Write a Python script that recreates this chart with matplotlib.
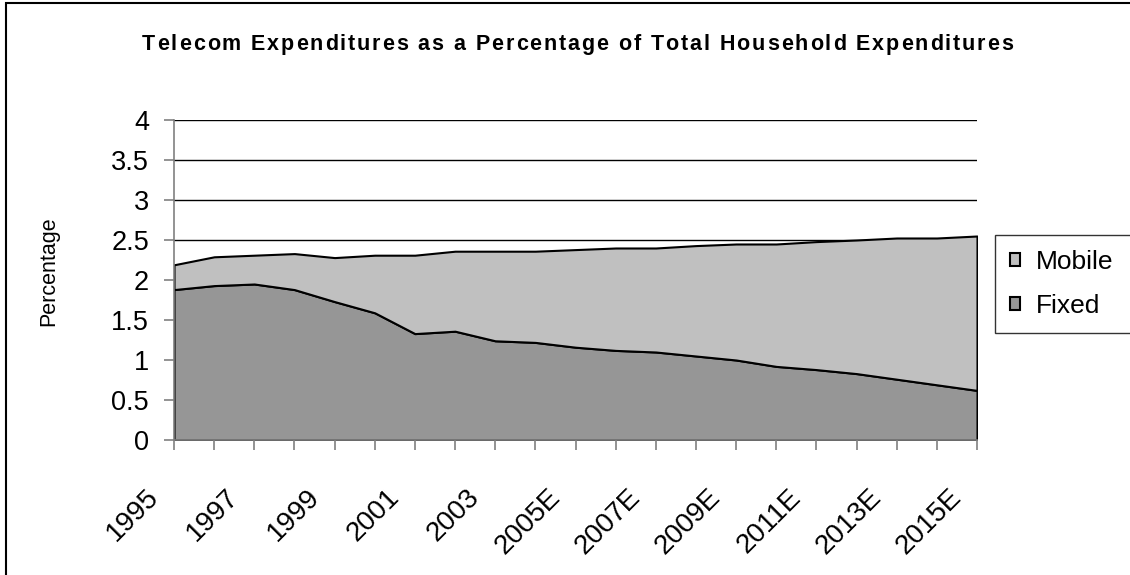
import matplotlib
matplotlib.use("Agg")
import matplotlib.pyplot as plt
from matplotlib.patches import Rectangle

plt.rcParams['font.family'] = ['Liberation Sans', 'DejaVu Sans']

years = ["1995", "1996", "1997", "1998", "1999", "2000", "2001", "2002", "2003",
         "2004", "2005E", "2006E", "2007E", "2008E", "2009E", "2010E", "2011E",
         "2012E", "2013E", "2014E", "2015E"]
fixed = [1.88, 1.93, 1.95, 1.88, 1.73, 1.59, 1.33, 1.36, 1.24, 1.22, 1.16,
         1.12, 1.10, 1.05, 1.00, 0.92, 0.88, 0.83, 0.76, 0.69, 0.62]
mobile = [0.31, 0.36, 0.36, 0.45, 0.55, 0.72, 0.98, 1.00, 1.12, 1.14, 1.22,
          1.28, 1.30, 1.38, 1.45, 1.53, 1.60, 1.67, 1.765, 1.835, 1.93]
y_ticks = [0, 0.5, 1, 1.5, 2, 2.5, 3, 3.5, 4]
y_labels = ["0", "0.5", "1", "1.5", "2", "2.5", "3", "3.5", "4"]
title = "Telecom Expenditures as a Percentage of Total Household Expenditures"

W, H = 1130, 575
fig = plt.figure(figsize=(W / 100, H / 100), dpi=100)
ax = fig.add_axes([174 / W, 1 - 440 / H, (977 - 174) / W, 320 / H])

x = list(range(len(years)))
polys = ax.stackplot(x, fixed, mobile, colors=["#969696", "#C0C0C0"],
                     edgecolor="black", linewidth=1.5, labels=["Fixed", "Mobile"])

# horizontal gridlines drawn behind the areas
for t in y_ticks[1:]:
    ax.axhline(t, color="black", linewidth=1, zorder=0)

ax.set_xlim(0, len(years) - 1)
ax.set_ylim(0, 4)
ax.set_yticks(y_ticks)
ax.set_yticklabels(y_labels, fontsize=19.5)
ax.set_xticks(x)
ax.set_xticklabels([])
ax.tick_params(axis="both", direction="out", length=7, color="#808080", width=1.2)
ax.tick_params(axis="y", pad=11)

# slanted year labels on every other tick, ending just left of the tick
for i, yr in enumerate(years):
    if i % 2 == 0:
        ax.annotate(yr, xy=(i, 0), xycoords=("data", "axes fraction"),
                    xytext=(-20.5, -32), textcoords="offset points",
                    rotation=45, ha="right", va="top", rotation_mode="anchor",
                    fontsize=20, annotation_clip=False)

for side in ["top", "right"]:
    ax.spines[side].set_visible(False)
ax.spines["left"].set_color("#808080")
ax.spines["left"].set_linewidth(1.2)
ax.spines["bottom"].set_color("#808080")
ax.spines["bottom"].set_linewidth(1.2)

fig.text(49 / W, 1 - 271 / H, "Percentage", rotation=90, ha="center",
         va="center", fontsize=15.5)

# title with widened letter spacing
title_kw = dict(fontsize=15.5, fontweight="bold")
renderer = fig.canvas.get_renderer()


def advance(ch):
    t1 = fig.text(0, 0, "X" + ch + "X", **title_kw)
    t2 = fig.text(0, 0, "XX", **title_kw)
    w = (t1.get_window_extent(renderer).width
         - t2.get_window_extent(renderer).width)
    t1.remove()
    t2.remove()
    return w


widths = [advance(c) for c in title]
left, right = 142, 1013
track = (right - left - sum(widths)) / (len(title) - 1)
pos = left
for c, w in zip(title, widths):
    if c != " ":
        fig.text(pos / W, 1 - 50 / H, c, ha="left", va="baseline", **title_kw)
    pos += w + track

handles = [polys[1], polys[0]]
leg = fig.legend(handles, ["Mobile", "Fixed"], loc="upper left",
                 bbox_to_anchor=(995 / W, 1 - 327 / H, 200 / W, 92 / H),
                 mode="expand", fontsize=19,
                 frameon=True, fancybox=False, edgecolor="black",
                 handlelength=0.38, handleheight=0.38, handletextpad=0.62,
                 borderpad=0.56, labelspacing=0.78, borderaxespad=0)
leg.get_frame().set_linewidth(1)

# outer chart border (right and bottom edges fall outside the image)
fig.patches.append(Rectangle((6 / W, -20 / H), 1200 / W, (H - 3 + 20) / H,
                             transform=fig.transFigure, fill=False,
                             edgecolor="black", linewidth=1.5))

fig.savefig("out.png", dpi=100)
